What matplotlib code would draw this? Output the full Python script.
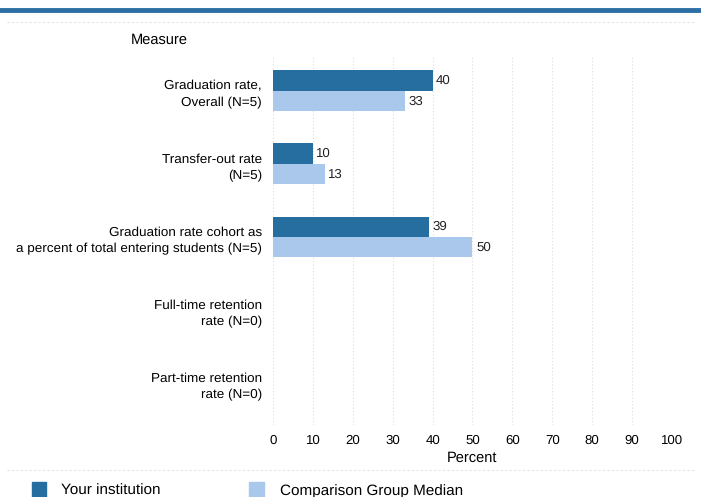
import matplotlib.pyplot as plt
import matplotlib.lines as mlines
import matplotlib.patches as mpatches
import numpy as np

plt.rcParams["font.family"] = ["Liberation Sans", "DejaVu Sans"]
plt.rcParams["text.hinting"] = "no_hinting"

# data
measures = ["Graduation rate,\nOverall (N=5)",
            "Transfer-out rate\n(N=5)",
            "Graduation rate cohort as\na percent of total entering students (N=5)",
            "Full-time retention\nrate (N=0)",
            "Part-time retention\nrate (N=0)"]
institution = [40, 10, 39, None, None]
comparison = [33, 13, 50, None, None]
ticks = list(range(0, 101, 10))

dark = "#256e9f"
light = "#a9c8ec"

fig = plt.figure(figsize=(7.01, 4.97), dpi=100)
ax = fig.add_axes([0.3894, 0.145, 0.5692, 0.74])

y = np.arange(len(measures))
h = 0.28
for i in range(len(measures)):
    if institution[i] is not None:
        ax.barh(y[i] - h / 2, institution[i], height=h, color=dark)
        ax.text(institution[i] + 0.9, y[i] - h / 2, str(institution[i]),
                va="center", ha="left", fontsize=9.5, color="#222222")
    if comparison[i] is not None:
        ax.barh(y[i] + h / 2, comparison[i], height=h, color=light)
        ax.text(comparison[i] + 0.9, y[i] + h / 2, str(comparison[i]),
                va="center", ha="left", fontsize=9.5, color="#222222")

ax.set_xlim(0, 100)
ax.set_ylim(4.57, -0.46)
ax.set_xticks(ticks)
ax.set_xticklabels([str(t) for t in ticks], fontsize=9.5)
ax.set_yticks(y)
ax.set_yticklabels(measures, fontsize=9.7, linespacing=1.5)
ax.tick_params(axis="y", length=0, pad=8)
ax.tick_params(axis="x", length=0, pad=7)
ax.grid(axis="x", color="#dcdce6", linestyle=(0, (1, 2)), linewidth=0.8)
ax.set_axisbelow(True)
for s in ax.spines.values():
    s.set_visible(False)
ax.set_xlabel("Percent", fontsize=10.5, labelpad=3)

fig.text(0.187, 0.92, "Measure", fontsize=10.5, ha="left", va="center")

# header rule and dotted separators
fig.add_artist(mlines.Line2D([0, 1], [0.979, 0.979], color="#2d6fa5", linewidth=3.5))
fig.add_artist(mlines.Line2D([0.01, 0.99], [0.955, 0.955], color="#e4e4e8",
                             linestyle=(0, (2, 2)), linewidth=0.8))
fig.add_artist(mlines.Line2D([0.01, 0.99], [0.055, 0.055], color="#e4e4e8",
                             linestyle=(0, (2, 2)), linewidth=0.8))

# legend
fig.add_artist(mpatches.Rectangle((0.045, 0.0), 0.021, 0.031, color=dark,
                                  transform=fig.transFigure))
fig.text(0.087, 0.013, "Your institution", fontsize=11, va="center")
fig.add_artist(mpatches.Rectangle((0.355, 0.0), 0.021, 0.031, color=light,
                                  transform=fig.transFigure))
fig.text(0.399, 0.013, "Comparison Group Median", fontsize=11, va="center")

fig.savefig("out.png", dpi=100)
